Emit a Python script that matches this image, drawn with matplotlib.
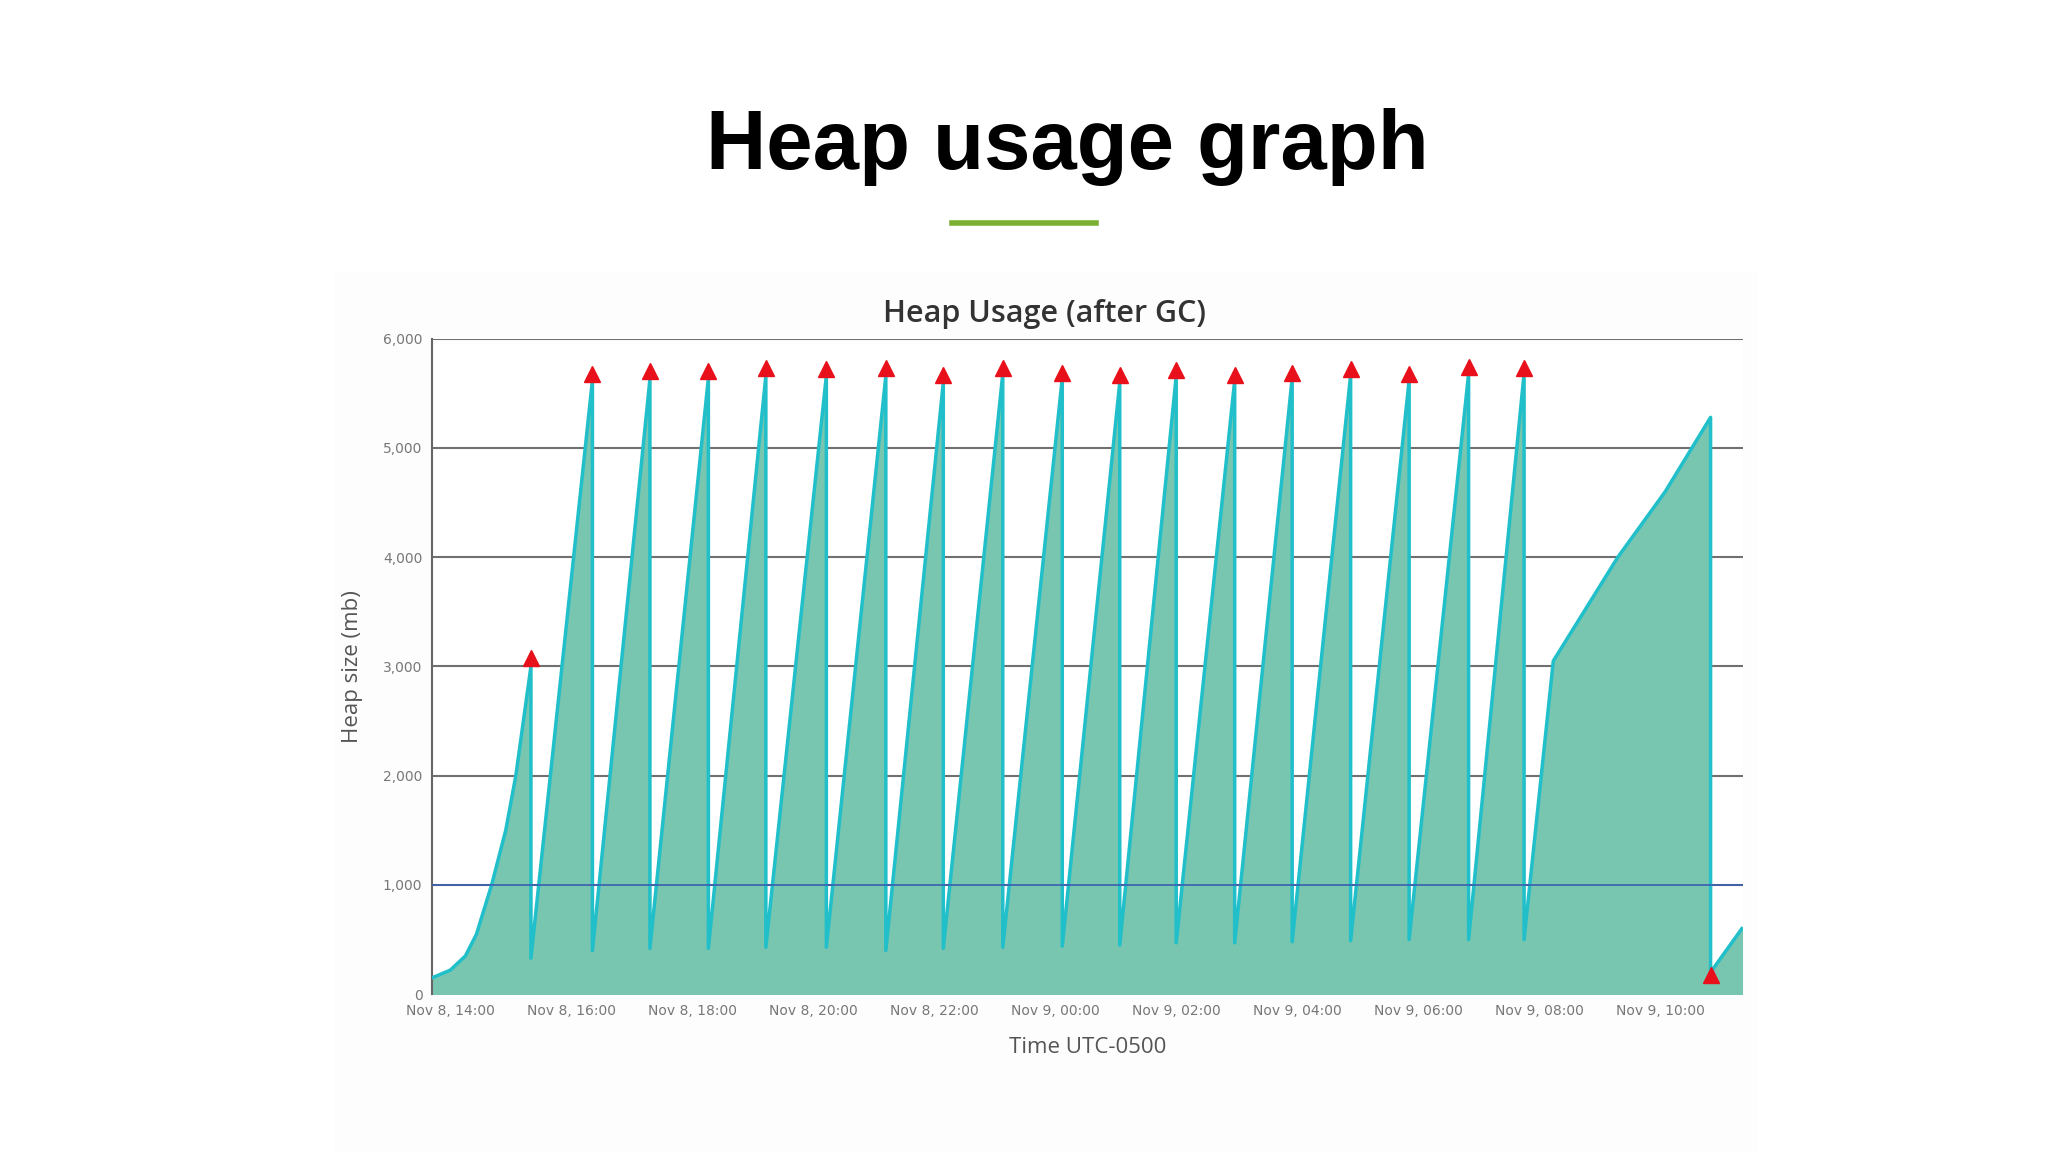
import matplotlib
matplotlib.use("Agg")
import matplotlib.pyplot as plt
import pandas as pd

# Vertices of heap usage line (time, MB)
times = ["2023-11-08 13:42","2023-11-08 14:00","2023-11-08 14:15","2023-11-08 14:26","2023-11-08 14:41","2023-11-08 14:55","2023-11-08 15:05","2023-11-08 15:20",
         "2023-11-08 15:20","2023-11-08 16:21","2023-11-08 16:21","2023-11-08 17:18","2023-11-08 17:18","2023-11-08 18:16",
         "2023-11-08 18:16","2023-11-08 19:13","2023-11-08 19:13","2023-11-08 20:13","2023-11-08 20:13","2023-11-08 21:12",
         "2023-11-08 21:12","2023-11-08 22:09","2023-11-08 22:09","2023-11-08 23:08","2023-11-08 23:08","2023-11-09 00:07",
         "2023-11-09 00:07","2023-11-09 01:04","2023-11-09 01:04","2023-11-09 02:00","2023-11-09 02:00","2023-11-09 02:58",
         "2023-11-09 02:58","2023-11-09 03:55","2023-11-09 03:55","2023-11-09 04:53","2023-11-09 04:53","2023-11-09 05:51",
         "2023-11-09 05:51","2023-11-09 06:50","2023-11-09 06:50","2023-11-09 07:45","2023-11-09 07:45","2023-11-09 08:14",
         "2023-11-09 09:18","2023-11-09 10:05","2023-11-09 10:50","2023-11-09 10:50","2023-11-09 11:21"]
heap_mb = [150, 220, 350, 550, 1000, 1500, 2000, 3000,
           330, 5620, 400, 5630, 420, 5640,
           420, 5660, 430, 5660, 430, 5660,
           400, 5600, 420, 5680, 430, 5640,
           440, 5600, 450, 5660, 470, 5620,
           470, 5640, 480, 5670, 490, 5620,
           500, 5680, 500, 5680, 500, 3050,
           4000, 4600, 5280, 200, 600]

# GC event markers
gc_times = ["2023-11-08 15:20","2023-11-08 16:21","2023-11-08 17:18","2023-11-08 18:16","2023-11-08 19:13","2023-11-08 20:13",
            "2023-11-08 21:12","2023-11-08 22:09","2023-11-08 23:08","2023-11-09 00:07","2023-11-09 01:04","2023-11-09 02:00",
            "2023-11-09 02:58","2023-11-09 03:55","2023-11-09 04:53","2023-11-09 05:51","2023-11-09 06:50","2023-11-09 07:45",
            "2023-11-09 10:50"]
gc_values = [3080, 5680, 5700, 5700, 5730, 5720, 5730, 5670, 5730, 5690, 5670, 5710,
             5670, 5690, 5720, 5680, 5740, 5730, 180]

tick_times = ["2023-11-08 14:00","2023-11-08 16:00","2023-11-08 18:00","2023-11-08 20:00","2023-11-08 22:00","2023-11-09 00:00",
              "2023-11-09 02:00","2023-11-09 04:00","2023-11-09 06:00","2023-11-09 08:00","2023-11-09 10:00"]
tick_labels = ["Nov 8, 14:00","Nov 8, 16:00","Nov 8, 18:00","Nov 8, 20:00","Nov 8, 22:00","Nov 9, 00:00",
               "Nov 9, 02:00","Nov 9, 04:00","Nov 9, 06:00","Nov 9, 08:00","Nov 9, 10:00"]
y_ticks = [0, 1000, 2000, 3000, 4000, 5000, 6000]

t = pd.to_datetime(times)
gt = pd.to_datetime(gc_times)

fig = plt.figure(figsize=(20.48, 11.52), dpi=100)
fig.patch.set_facecolor("white")
fig.text(0.521, 0.872, "Heap usage graph", ha="center", va="center", fontsize=60,
         fontweight="bold", family="Liberation Sans")
fig.add_artist(plt.Line2D([0.465, 0.535], [0.806, 0.806], color="#7cb032", lw=4))
fig.patches.append(plt.Rectangle((0.163, 0.0), 0.695, 0.765, transform=fig.transFigure,
                                 facecolor="#fdfdfd", edgecolor="none", zorder=-10))

ax = fig.add_axes([0.211, 0.137, 0.64, 0.569])
ax.set_facecolor("white")
ax.fill_between(t, heap_mb, 0, color="#78c5b0", zorder=2)
ax.plot(t, heap_mb, color="#20bfc9", lw=2.5, zorder=3)
ax.plot(gt, gc_values, "^", color="#e8101a", ms=11, zorder=4, clip_on=False)
ax.axhline(1000, color="#3a5fb0", lw=1.2, zorder=3)

ax.set_xlim(pd.Timestamp("2023-11-08 13:42"), pd.Timestamp("2023-11-09 11:22"))
ax.set_ylim(0, 6000)
ax.set_yticks(y_ticks)
ax.set_yticklabels([f"{v:,}" for v in y_ticks])
ax.set_xticks(pd.to_datetime(tick_times))
ax.set_xticklabels(tick_labels)
ax.grid(axis="y", color="#707070", lw=1.5, zorder=1)
ax.tick_params(axis="both", labelsize=10, colors="#777777", length=0, pad=7)
for s in ["top", "right", "bottom"]:
    ax.spines[s].set_visible(False)
ax.spines["left"].set_color("#666666")
ax.spines["left"].set_linewidth(1.5)
ax.set_title("Heap Usage (after GC)", fontsize=22, color="#333333", family="Open Sans",
             fontweight="semibold", x=0.467, pad=12)
ax.set_xlabel("Time UTC-0500", fontsize=16, color="#555555", family="Open Sans", labelpad=14)
ax.set_ylabel("Heap size (mb)", fontsize=16, color="#555555", family="Open Sans", labelpad=14)
fig.savefig("out.png", dpi=100)
